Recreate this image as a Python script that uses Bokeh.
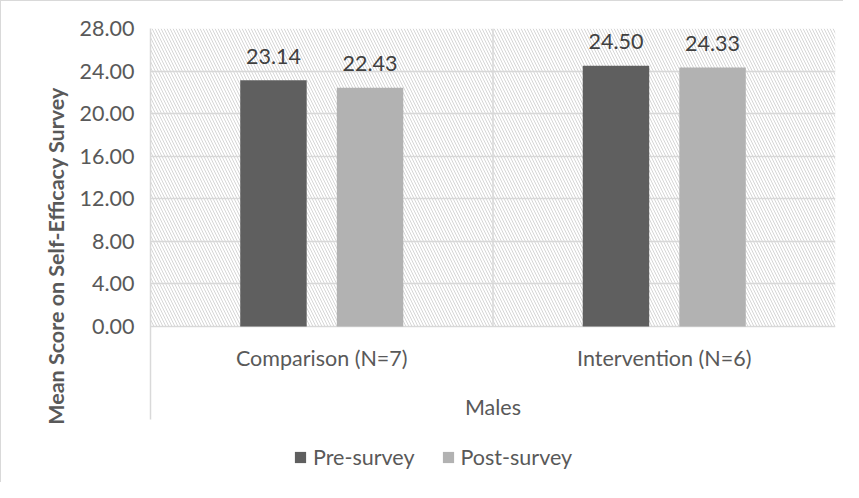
from bokeh.plotting import figure
from bokeh.models import (ColumnDataSource, Range1d, FixedTicker, Grid,
                          NumeralTickFormatter, Legend, LegendItem)
from bokeh.core.properties import value
from bokeh.embed import file_html
from bokeh.resources import INLINE

# ---- data ----
categories = ["Comparison (N=7)", "Intervention (N=6)"]
pre_survey = [23.14, 24.50]
post_survey = [22.43, 24.33]
series_names = ["Pre-survey", "Post-survey"]
y_ticks = [0, 4, 8, 12, 16, 20, 24, 28]
x_axis_title = "Males"
y_axis_title = "Mean Score on Self-Efficacy Survey"

FONT = "Lato"
FS = "21.5px"
TXT = "#595959"
GRID = "#d9d9d9"
PRE_COLOR = "#5f5f5f"
POST_COLOR = "#b2b2b2"

n = len(categories)
centers = [i + 0.5 for i in range(n)]
dividers = [float(i) for i in range(1, n)]
offset = 0.141
bar_w = 0.194

pre_src = ColumnDataSource(dict(x=[c - offset for c in centers], top=pre_survey,
                                label=[f"{v:.2f}" for v in pre_survey]))
post_src = ColumnDataSource(dict(x=[c + offset for c in centers], top=post_survey,
                                 label=[f"{v:.2f}" for v in post_survey]))
cat_src = ColumnDataSource(dict(x=centers, y=[y_ticks[0]] * n, label=categories))

ymax = float(y_ticks[-1])
band_bottom = -ymax * 93 / 298    # bottom of the category band
ymin = ymax - ymax * 455 / 298    # frame reaches the bottom of the figure

p = figure(width=843, height=482, output_backend="svg", toolbar_location=None,
           x_range=Range1d(start=0, end=n), y_range=Range1d(start=ymin, end=ymax),
           min_border_left=149, min_border_right=9, min_border_top=27,
           min_border_bottom=0, outline_line_color=None)
p.styles = {"border-left": "1px solid #d9d9d9", "border-top": "1px solid #d9d9d9"}

# hatched plot-area background
p.quad(left=0, right=n, bottom=0, top=ymax, fill_color=None, line_color=None,
       hatch_pattern="\\", hatch_color="#d6d6d6", hatch_scale=6, hatch_weight=1)

# grids
p.ygrid.ticker = FixedTicker(ticks=y_ticks)
p.ygrid.grid_line_color = GRID
p.ygrid.grid_line_width = 1.5
p.ygrid.bounds = (0, ymax)
p.xgrid.visible = False
# divider between the category groups (plot area only)
p.segment(x0=dividers, x1=dividers, y0=[y_ticks[0]] * len(dividers),
          y1=[ymax] * len(dividers), line_color=GRID, line_width=1.5)
# right edge of the chart box
p.add_layout(Grid(dimension=0, ticker=FixedTicker(ticks=[float(n)]),
                  grid_line_color=GRID, grid_line_width=2,
                  cross_bounds=(band_bottom, ymax)))

# bars
r_pre = p.vbar(x="x", top="top", width=bar_w, bottom=0, source=pre_src,
               fill_color=PRE_COLOR, line_color=None)
r_post = p.vbar(x="x", top="top", width=bar_w, bottom=0, source=post_src,
                fill_color=POST_COLOR, line_color=None)

# value labels
for src in (pre_src, post_src):
    p.text(x="x", y="top", text="label", source=src, text_align="center",
           text_baseline="alphabetic", y_offset=-24, text_font=value(FONT),
           text_font_size=FS, text_color="#404040")

# category labels and x title (in the band below zero)
p.text(x="x", y="y", text="label", source=cat_src, text_align="center",
       text_baseline="top", y_offset=18, text_font=value(FONT),
       text_font_size=FS, text_color=TXT)
p.text(x=[n / 2], y=[y_ticks[0]], text=[x_axis_title], text_align="center",
       text_baseline="top", y_offset=67, text_font=value(FONT),
       text_font_size=FS, text_color=TXT)

# y axis
yax = p.yaxis[0]
yax.ticker = FixedTicker(ticks=y_ticks)
yax.formatter = NumeralTickFormatter(format="0.00")
yax.bounds = (band_bottom, ymax)
yax.axis_line_color = GRID
yax.axis_line_width = 1.5
yax.major_tick_line_color = None
yax.minor_tick_line_color = None
yax.major_tick_out = 0
yax.major_tick_in = 0
yax.major_label_standoff = 16
yax.major_label_text_font = FONT
yax.major_label_text_font_size = FS
yax.major_label_text_color = TXT
yax.axis_label = y_axis_title
yax.axis_label_text_font = FONT
yax.axis_label_text_font_size = FS
yax.axis_label_text_font_style = "bold"
yax.axis_label_text_color = TXT
yax.axis_label_standoff = 8

p.xaxis.visible = False

# legend (inside the frame, below the category band)
legend = Legend(items=[LegendItem(label=series_names[0], renderers=[r_pre]),
                       LegendItem(label=series_names[1], renderers=[r_post])],
                orientation="horizontal", location=(143, 13),
                glyph_width=14, glyph_height=14, label_standoff=6, spacing=26,
                label_text_font=FONT, label_text_font_size=FS,
                label_text_color=TXT, border_line_color=None,
                background_fill_alpha=0, margin=0, padding=4)
p.add_layout(legend)

open("out.html", "w").write(file_html(p, INLINE))
